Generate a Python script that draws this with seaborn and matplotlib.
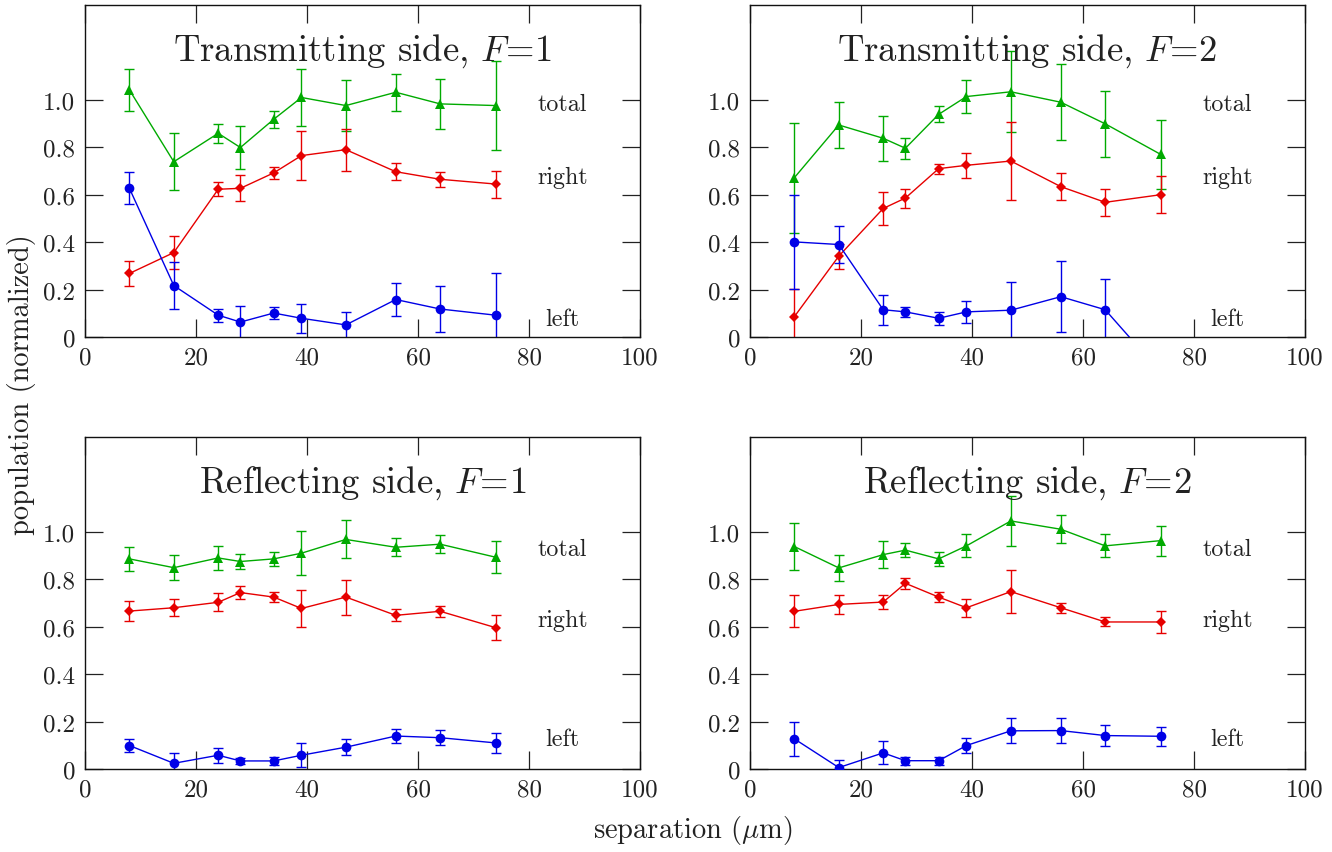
import numpy as np
import pandas as pd
import matplotlib
matplotlib.use("Agg")
import matplotlib.pyplot as plt
import seaborn as sns

# separation in micrometres (same for every panel)
separation = [8, 16, 24, 28, 34, 39, 47, 56, 64, 74]

# Transmitting side, F=1
tf1_total = [1.042, 0.739, 0.859, 0.799, 0.918, 1.010, 0.976, 1.032, 0.983, 0.976]
tf1_total_err = [0.087, 0.120, 0.040, 0.089, 0.035, 0.120, 0.106, 0.078, 0.104, 0.186]
tf1_right = [0.268, 0.356, 0.623, 0.627, 0.692, 0.765, 0.790, 0.697, 0.665, 0.645]
tf1_right_err = [0.054, 0.068, 0.030, 0.055, 0.025, 0.103, 0.088, 0.035, 0.032, 0.057]
tf1_left = [0.627, 0.217, 0.092, 0.063, 0.101, 0.079, 0.051, 0.158, 0.118, 0.092]
tf1_left_err = [0.068, 0.099, 0.027, 0.068, 0.025, 0.061, 0.056, 0.071, 0.099, 0.176]

# Transmitting side, F=2
tf2_total = [0.672, 0.894, 0.838, 0.796, 0.939, 1.014, 1.034, 0.990, 0.899, 0.770]
tf2_total_err = [0.232, 0.095, 0.095, 0.045, 0.034, 0.070, 0.170, 0.160, 0.140, 0.146]
tf2_right = [0.086, 0.341, 0.542, 0.586, 0.710, 0.724, 0.742, 0.634, 0.568, 0.600]
tf2_right_err = [0.118, 0.053, 0.070, 0.040, 0.021, 0.052, 0.164, 0.058, 0.057, 0.078]
tf2_left = [0.401, 0.390, 0.115, 0.106, 0.079, 0.106, 0.113, 0.170, 0.115, -0.150]
tf2_left_err = [0.198, 0.077, 0.063, 0.020, 0.028, 0.047, 0.118, 0.149, 0.128, 0.100]

# Reflecting side, F=1
rf1_total = [0.886, 0.849, 0.890, 0.875, 0.886, 0.910, 0.968, 0.935, 0.948, 0.893]
rf1_total_err = [0.052, 0.053, 0.049, 0.030, 0.029, 0.092, 0.080, 0.038, 0.037, 0.067]
rf1_right = [0.666, 0.680, 0.703, 0.744, 0.725, 0.677, 0.725, 0.648, 0.665, 0.596]
rf1_right_err = [0.042, 0.035, 0.038, 0.026, 0.022, 0.077, 0.074, 0.026, 0.023, 0.052]
rf1_left = [0.099, 0.024, 0.058, 0.034, 0.034, 0.058, 0.092, 0.139, 0.132, 0.110]
rf1_left_err = [0.027, 0.042, 0.032, 0.011, 0.017, 0.051, 0.033, 0.030, 0.032, 0.042]

# Reflecting side, F=2
rf2_total = [0.938, 0.848, 0.904, 0.923, 0.886, 0.941, 1.046, 1.011, 0.941, 0.963]
rf2_total_err = [0.100, 0.054, 0.056, 0.029, 0.029, 0.048, 0.105, 0.058, 0.048, 0.063]
rf2_right = [0.665, 0.694, 0.704, 0.783, 0.725, 0.680, 0.748, 0.680, 0.620, 0.620]
rf2_right_err = [0.068, 0.039, 0.028, 0.022, 0.022, 0.037, 0.092, 0.022, 0.019, 0.047]
rf2_left = [0.127, 0.006, 0.068, 0.035, 0.035, 0.099, 0.161, 0.162, 0.141, 0.138]
rf2_left_err = [0.073, 0.034, 0.048, 0.017, 0.017, 0.030, 0.052, 0.053, 0.043, 0.039]

panels = [
    ("Transmitting side", 1, tf1_total, tf1_total_err, tf1_right, tf1_right_err, tf1_left, tf1_left_err),
    ("Transmitting side", 2, tf2_total, tf2_total_err, tf2_right, tf2_right_err, tf2_left, tf2_left_err),
    ("Reflecting side", 1, rf1_total, rf1_total_err, rf1_right, rf1_right_err, rf1_left, rf1_left_err),
    ("Reflecting side", 2, rf2_total, rf2_total_err, rf2_right, rf2_right_err, rf2_left, rf2_left_err),
]

series_names = ["total", "right", "left"]
colors = {"total": "#00aa00", "right": "#e60000", "left": "#0000e6"}
markers = {"total": "^", "right": "D", "left": "o"}
msizes = {"total": 7, "right": 5, "left": 7}

x_ticks = [0, 20, 40, 60, 80, 100]
y_ticks = [0, 0.2, 0.4, 0.6, 0.8, 1.0]
y_ticklabels = ["0", "0.2", "0.4", "0.6", "0.8", "1.0"]

sns.set_style("ticks")
plt.rcParams['font.family'] = ['cmr10', 'DejaVu Serif']
plt.rcParams['mathtext.fontset'] = 'cm'
plt.rcParams['axes.unicode_minus'] = False
plt.rcParams['axes.formatter.use_mathtext'] = True
text_color = "#222222"

fig = plt.figure(figsize=(13.32, 8.53), dpi=100)
W, H = 1332, 853
boxes = [(85, 6, 640, 338), (750, 6, 1305, 338), (85, 438, 640, 770), (750, 438, 1305, 770)]
label_y = [{"total": 0.983, "right": 0.675, "left": 0.076},
           {"total": 0.983, "right": 0.675, "left": 0.076},
           {"total": 0.928, "right": 0.629, "left": 0.127},
           {"total": 0.928, "right": 0.629, "left": 0.127}]

for i, (side, F, tot, tot_e, rgt, rgt_e, lft, lft_e) in enumerate(panels):
    l, t, r, b = boxes[i]
    ax = fig.add_axes([l / W, 1 - b / H, (r - l) / W, (b - t) / H])
    vals = {"total": (tot, tot_e), "right": (rgt, rgt_e), "left": (lft, lft_e)}
    rows = []
    for name in series_names:
        for x, y in zip(separation, vals[name][0]):
            rows.append({"separation": x, "population": y, "series": name})
    df = pd.DataFrame(rows)

    for name in series_names:
        y, e = vals[name]
        ax.errorbar(separation, y, yerr=e, fmt="none", ecolor=colors[name],
                    elinewidth=1.0, capsize=3.3, capthick=1.0, zorder=2)
    sns.lineplot(data=df, x="separation", y="population", hue="series", style="series",
                 hue_order=series_names, style_order=series_names,
                 palette=colors, markers=markers, dashes=False, legend=False,
                 linewidth=1.0, markeredgewidth=0, ax=ax, zorder=3)
    for line, name in zip(ax.get_lines()[-3:], series_names):
        line.set_markersize(msizes[name])

    for name in series_names:
        ax.text(86, label_y[i][name], name, ha="center", va="center",
                fontsize=17.3, color=text_color)

    ax.text(0.5, 0.864, side + r", $F\!=\!" + str(F) + "$", transform=ax.transAxes,
            ha="center", va="center", fontsize=26.4, color=text_color)

    ax.set_xlim(0, 100)
    ax.set_ylim(0, 1.4)
    ax.set_xticks(x_ticks)
    ax.set_xticklabels([str(v) for v in x_ticks])
    ax.set_yticks(y_ticks)
    ax.set_yticklabels(y_ticklabels)
    ax.set_xlabel("")
    ax.set_ylabel("")
    ax.tick_params(direction="in", length=13, width=0.9, top=True, right=True,
                   labelsize=18, labelcolor=text_color, pad=7, color="#222222")
    for sp in ax.spines.values():
        sp.set_visible(True)
        sp.set_linewidth(1.0)
        sp.set_color("#111111")

fig.text(22 / W, 1 - 385 / H, "population (normalized)", rotation=90,
         ha="center", va="center", fontsize=20.5, color=text_color)
fig.text(693 / W, 1 - 831 / H, r"separation ($\mu$m)", ha="center", va="center",
         fontsize=20.5, color=text_color)

fig.savefig("out.png", dpi=100)
